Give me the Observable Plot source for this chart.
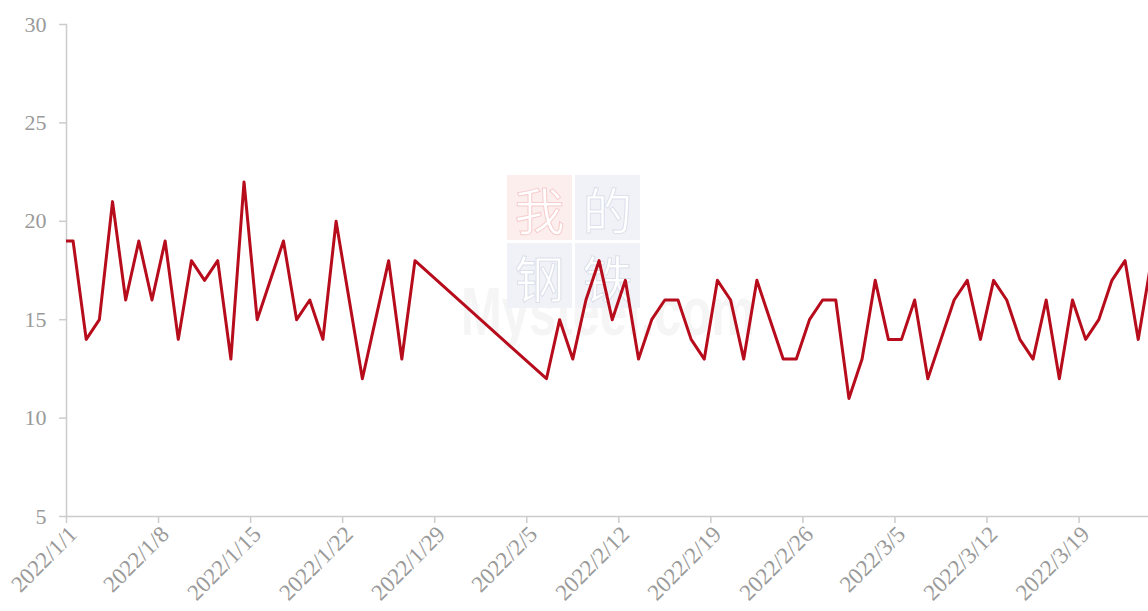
<!DOCTYPE html>
<html>
<head>
<meta charset="utf-8">
<script src="https://cdn.jsdelivr.net/npm/d3@7"></script>
<script src="https://cdn.jsdelivr.net/npm/@observablehq/plot@0.6"></script>
<style>
  html, body { margin: 0; padding: 0; background: #fff; }
  #wrap { position: relative; width: 1148px; height: 611px; overflow: hidden; }
  #wm { position: absolute; left: 0; top: 0; width: 1148px; height: 611px; }
  #wm .sq { position: absolute; width: 65px; height: 65px; display: flex; align-items: center; justify-content: center;
            font-family: "Noto Sans CJK SC", sans-serif; font-size: 50px; color: #fff; }
  #wm .mys { position: absolute; left: 461px; top: 277px; font-family: "Liberation Sans", Arial, sans-serif;
             font-weight: bold; font-size: 68px; line-height: 1; color: #f5f5f5; white-space: nowrap;
             transform: scaleX(0.72); transform-origin: 0 0; }
  #chart { position: absolute; left: 0; top: 0; }
</style>
</head>
<body>
<div id="wrap">
  <div id="wm">
    <div class="mys">Mysteel.com</div>
    <div class="sq" style="left:507px;top:175px;background:#fdeeee;-webkit-text-stroke:1px #f6cdcd;">我</div>
    <div class="sq" style="left:575px;top:175px;background:#f0f2f7;-webkit-text-stroke:1px #dbe0ea;">的</div>
    <div class="sq" style="left:507px;top:243px;background:#f0f2f7;-webkit-text-stroke:1px #dbe0ea;">钢</div>
    <div class="sq" style="left:575px;top:243px;background:#f0f2f7;-webkit-text-stroke:1px #dbe0ea;">铁</div>
  </div>
  <div id="chart"></div>
</div>
<script>
// Daily values (the view is zoomed: first and last points lie just outside the frame)
const dates = [
  "2021-12-31","2022-01-01","2022-01-02","2022-01-03","2022-01-04","2022-01-05","2022-01-06","2022-01-07",
  "2022-01-08","2022-01-09","2022-01-10","2022-01-11","2022-01-12","2022-01-13","2022-01-14","2022-01-15",
  "2022-01-16","2022-01-17","2022-01-18","2022-01-19","2022-01-20","2022-01-21","2022-01-22","2022-01-23",
  "2022-01-24","2022-01-25","2022-01-26","2022-01-27",
  "2022-02-06","2022-02-07","2022-02-08","2022-02-09","2022-02-10","2022-02-11","2022-02-12","2022-02-13",
  "2022-02-14","2022-02-15","2022-02-16","2022-02-17","2022-02-18","2022-02-19","2022-02-20","2022-02-21",
  "2022-02-22","2022-02-23","2022-02-24","2022-02-25","2022-02-26","2022-02-27","2022-02-28",
  "2022-03-01","2022-03-02","2022-03-03","2022-03-04","2022-03-05","2022-03-06","2022-03-07","2022-03-08",
  "2022-03-09","2022-03-10","2022-03-11","2022-03-12","2022-03-13","2022-03-14","2022-03-15","2022-03-16",
  "2022-03-17","2022-03-18","2022-03-19","2022-03-20","2022-03-21","2022-03-22","2022-03-23","2022-03-24"
];
const values = [
  19,19,14,15,21,16,19,16,
  19,14,18,17,18,13,22,15,
  17,19,15,16,14,20,16,12,
  15,18,13,18,
  12,15,13,16,18,15,17,13,
  15,16,16,14,13,17,16,13,
  17,15,13,13,15,16,16,
  11,13,17,14,14,16,12,14,
  16,17,14,17,16,14,13,16,
  12,16,14,15,17,18,14,18
];
const xTickDates = ["2022-01-01","2022-01-08","2022-01-15","2022-01-22","2022-01-29","2022-02-05",
  "2022-02-12","2022-02-19","2022-02-26","2022-03-05","2022-03-12","2022-03-19"];
const yTicks = [5, 10, 15, 20, 25, 30];

const noon = d => d3.utcHour.offset(d, 12);
const data = dates.map((d, i) => ({date: new Date(d), value: values[i]}));
const tickD = xTickDates.map(d => new Date(d));
const labelD = tickD.map(noon);
const fmt = d => `${d.getUTCFullYear()}/${d.getUTCMonth() + 1}/${d.getUTCDate()}`;

const chart = Plot.plot({
  width: 1148,
  height: 611,
  marginTop: 24,
  marginBottom: 95,
  marginLeft: 66,
  marginRight: 0,
  style: {background: "transparent", fontFamily: "'Liberation Serif', serif", fontSize: "22px", color: "#999"},
  x: {type: "utc", domain: [new Date("2022-01-01"), new Date("2022-03-24T06:45:00Z")]},
  y: {domain: [5, 30]},
  marks: [
    Plot.frame({anchor: "left", stroke: "#ccc", strokeWidth: 1.5}),
    Plot.frame({anchor: "bottom", stroke: "#ccc", strokeWidth: 1.5}),
    Plot.axisY({ticks: yTicks, tickSize: 7, tickPadding: 13, stroke: "#ccc", strokeWidth: 1.5, fill: "#9a9a9a", label: null, fontSize: 22}),
    Plot.axisX({ticks: tickD, tickSize: 7, tickFormat: () => "", stroke: "#ccc", strokeWidth: 1.5, label: null}),
    Plot.axisX({ticks: labelD, tickSize: 0, tickPadding: 14, tickRotate: -45, tickFormat: fmt, fill: "#9a9a9a", label: null, fontSize: 23}),
    Plot.line(data, {x: d => noon(d.date), y: "value", stroke: "#b60c1c", strokeWidth: 3, clip: true})
  ]
});
document.getElementById("chart").appendChild(chart);
</script>
</body>
</html>
